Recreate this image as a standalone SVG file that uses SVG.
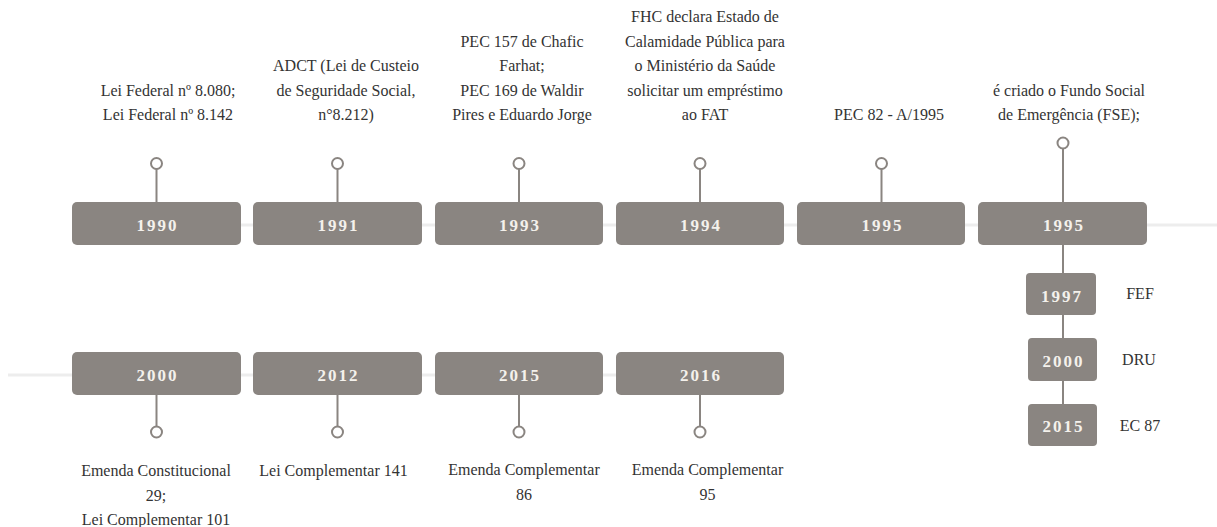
<svg xmlns="http://www.w3.org/2000/svg" width="1217" height="527" viewBox="0 0 1217 527">
<style>
.bg{fill:#ffffff}
.track{stroke:#ededed;stroke-width:3;fill:none}
.conn{stroke:#8a8581;stroke-width:2;fill:none}
.dot{fill:#ffffff;stroke:#8a8581;stroke-width:2}
.box{fill:#8a8581}
.yr{font-family:'Liberation Serif','DejaVu Serif',serif;font-weight:bold;font-size:17px;fill:#f4f1ec;letter-spacing:2px;text-anchor:middle}
.lbl{font-family:'Liberation Serif','DejaVu Serif',serif;font-size:16px;fill:#333333;text-anchor:middle}
</style>
<rect class="bg" x="0" y="0" width="1217" height="527"/>
<g id="connectors">
<line class="track" x1="72" y1="225" x2="1217" y2="225"/>
<line class="track" x1="8" y1="375" x2="783" y2="375"/>
<line class="conn" x1="156.5" y1="169" x2="156.5" y2="202"/>
<line class="conn" x1="337.5" y1="169" x2="337.5" y2="202"/>
<line class="conn" x1="519" y1="169" x2="519" y2="202"/>
<line class="conn" x1="700" y1="169" x2="700" y2="202"/>
<line class="conn" x1="881.5" y1="169" x2="881.5" y2="202"/>
<line class="conn" x1="1063" y1="149" x2="1063" y2="404"/>
<line class="conn" x1="156.5" y1="395" x2="156.5" y2="426"/>
<line class="conn" x1="337.5" y1="395" x2="337.5" y2="426"/>
<line class="conn" x1="519" y1="395" x2="519" y2="426"/>
<line class="conn" x1="700" y1="395" x2="700" y2="426"/>
</g>
<g id="n1990">
<circle class="dot" cx="156.5" cy="163.5" r="5.5"/>
<rect class="box" x="72" y="202" width="169" height="43" rx="5"/>
<text class="yr" x="157.5" y="230.5">1990</text>
<text class="lbl" x="168" y="95.5">Lei Federal nº 8.080;</text>
<text class="lbl" x="168" y="120">Lei Federal nº 8.142</text>
</g>
<g id="n1991">
<circle class="dot" cx="337.5" cy="163.5" r="5.5"/>
<rect class="box" x="253" y="202" width="169" height="43" rx="5"/>
<text class="yr" x="338.5" y="230.5">1991</text>
<text class="lbl" x="346" y="71">ADCT (Lei de Custeio</text>
<text class="lbl" x="346" y="95.5">de Seguridade Social,</text>
<text class="lbl" x="346" y="120">n°8.212)</text>
</g>
<g id="n1993">
<circle class="dot" cx="519" cy="163.5" r="5.5"/>
<rect class="box" x="435" y="202" width="168" height="43" rx="5"/>
<text class="yr" x="520" y="230.5">1993</text>
<text class="lbl" x="522" y="46.5">PEC 157 de Chafic</text>
<text class="lbl" x="522" y="71">Farhat;</text>
<text class="lbl" x="522" y="95.5">PEC 169 de Waldir</text>
<text class="lbl" x="522" y="120">Pires e Eduardo Jorge</text>
</g>
<g id="n1994">
<circle class="dot" cx="700" cy="163.5" r="5.5"/>
<rect class="box" x="616" y="202" width="168" height="43" rx="5"/>
<text class="yr" x="701" y="230.5">1994</text>
<text class="lbl" x="705" y="22">FHC declara Estado de</text>
<text class="lbl" x="705" y="46.5">Calamidade Pública para</text>
<text class="lbl" x="705" y="71">o Ministério da Saúde</text>
<text class="lbl" x="705" y="95.5">solicitar um empréstimo</text>
<text class="lbl" x="705" y="120">ao FAT</text>
</g>
<g id="n1995a">
<circle class="dot" cx="881.5" cy="163.5" r="5.5"/>
<rect class="box" x="797" y="202" width="168" height="43" rx="5"/>
<text class="yr" x="882.5" y="230.5">1995</text>
<text class="lbl" x="889" y="120">PEC 82 - A/1995</text>
</g>
<g id="n1995b">
<circle class="dot" cx="1063" cy="143" r="5.5"/>
<rect class="box" x="978" y="202" width="169" height="43" rx="5"/>
<text class="yr" x="1064" y="230.5">1995</text>
<text class="lbl" x="1069" y="96">é criado o Fundo Social</text>
<text class="lbl" x="1069" y="120">de Emergência (FSE);</text>
</g>
<g id="n1997">
<rect class="box" x="1026" y="273" width="70" height="42" rx="4"/>
<text class="yr" x="1062" y="301.5">1997</text>
<text class="lbl" x="1140" y="299">FEF</text>
</g>
<g id="n2000b">
<rect class="box" x="1028" y="338" width="69" height="43" rx="4"/>
<text class="yr" x="1063.5" y="366.5">2000</text>
<text class="lbl" x="1139" y="365">DRU</text>
</g>
<g id="n2015b">
<rect class="box" x="1028" y="404" width="69" height="42" rx="4"/>
<text class="yr" x="1063.5" y="432">2015</text>
<text class="lbl" x="1140" y="431">EC 87</text>
</g>
<g id="n2000">
<rect class="box" x="72" y="352" width="169" height="43" rx="5"/>
<text class="yr" x="157.5" y="380.5">2000</text>
<circle class="dot" cx="156.5" cy="432" r="5.5"/>
<text class="lbl" x="156" y="476">Emenda Constitucional</text>
<text class="lbl" x="156" y="500.5">29;</text>
<text class="lbl" x="156" y="525">Lei Complementar 101</text>
</g>
<g id="n2012">
<rect class="box" x="253" y="352" width="169" height="43" rx="5"/>
<text class="yr" x="338.5" y="380.5">2012</text>
<circle class="dot" cx="337.5" cy="432" r="5.5"/>
<text class="lbl" x="333.5" y="476">Lei Complementar 141</text>
</g>
<g id="n2015">
<rect class="box" x="435" y="352" width="168" height="43" rx="5"/>
<text class="yr" x="520" y="380.5">2015</text>
<circle class="dot" cx="519" cy="432" r="5.5"/>
<text class="lbl" x="524" y="475">Emenda Complementar</text>
<text class="lbl" x="524" y="500">86</text>
</g>
<g id="n2016">
<rect class="box" x="616" y="352" width="168" height="43" rx="5"/>
<text class="yr" x="701" y="380.5">2016</text>
<circle class="dot" cx="700" cy="432" r="5.5"/>
<text class="lbl" x="707.5" y="475">Emenda Complementar</text>
<text class="lbl" x="707.5" y="500">95</text>
</g>
</svg>
